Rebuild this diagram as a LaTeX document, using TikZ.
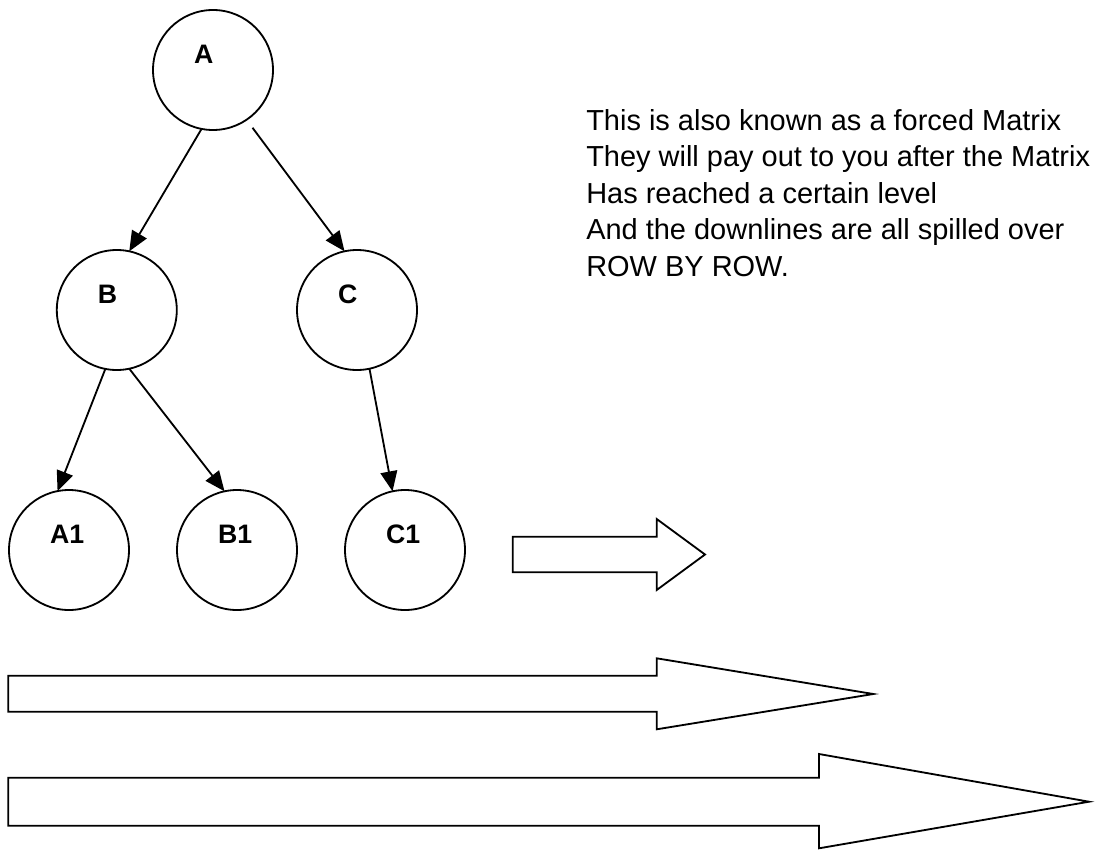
\documentclass[tikz,border=0pt]{standalone}
\usepackage{fontspec}
\setmainfont{Liberation Sans}
\usepackage{tikz}
\usetikzlibrary{arrows.meta}
\tikzset{
ball/.style = {circle, draw=black, line width=1.3pt, minimum size=#1,
               inner sep=0pt, outer sep=0pt, text width=0.95cm, align=left,
               text height=0.49cm, text depth=0.8cm,
               font=\bfseries\fontsize{19}{22}\selectfont},
ball/.default = 3cm % diameter of the circles
}
\tikzset{
link/.style = {-{Triangle[length=0.5cm, width=0.42cm]}, line width=1.3pt},
block/.style = {draw=black, line width=1.3pt, line join=miter}
}

\begin{document}
\begin{tikzpicture}
  \useasboundingbox (0,0) rectangle (27.55,-21.25);
  % Circles
    \node[ball] (A) at (5.325,-1.75) {A};
    \node[ball] (B) at (2.92,-7.75) {B};
    \node[ball] (C) at (8.925,-7.75) {C};
    \node[ball] (A1) at (1.725,-13.75) {A1};
    \node[ball] (B1) at (5.925,-13.75) {B1};
    \node[ball] (C1) at (10.125,-13.75) {C1};

  % Lines
    \draw[link] (A.-101) -- (B.78);
    \draw[link, shorten <=0.25cm] (A.-56) -- (C.102);
    \draw[link] (B.-101) -- (A1.101);
    \draw[link] (B.-78) -- (B1.102);
    \draw[link] (C.-78) -- (C1.102);

  % Text
    \node[anchor=base west, align=left, inner sep=0pt,
          font=\fontsize{20.6}{25.9}\selectfont] (note) at (14.65,-6.9)
      {This is also known as a forced Matrix\\
       They will pay out to you after the Matrix\\
       Has reached a certain level\\
       And the downlines are all spilled over\\
       ROW BY ROW.};

  % Block arrows
    \draw[block] (12.8175,-13.4175) -- (16.4175,-13.4175) -- (16.4175,-12.975)
      -- (17.625,-13.8625) -- (16.4175,-14.75) -- (16.4175,-14.3075)
      -- (12.8175,-14.3075) -- cycle;
    \draw[block] (0.2075,-16.8925) -- (16.4175,-16.8925) -- (16.4175,-16.4575)
      -- (21.8325,-17.35) -- (16.4175,-18.2325) -- (16.4175,-17.7925)
      -- (0.2075,-17.7925) -- cycle;
    \draw[block] (0.2075,-19.4425) -- (20.475,-19.4425) -- (20.475,-18.85)
      -- (27.225,-20.0425) -- (20.475,-21.2075) -- (20.475,-20.6425)
      -- (0.2075,-20.6425) -- cycle;
\end{tikzpicture}
\end{document}
